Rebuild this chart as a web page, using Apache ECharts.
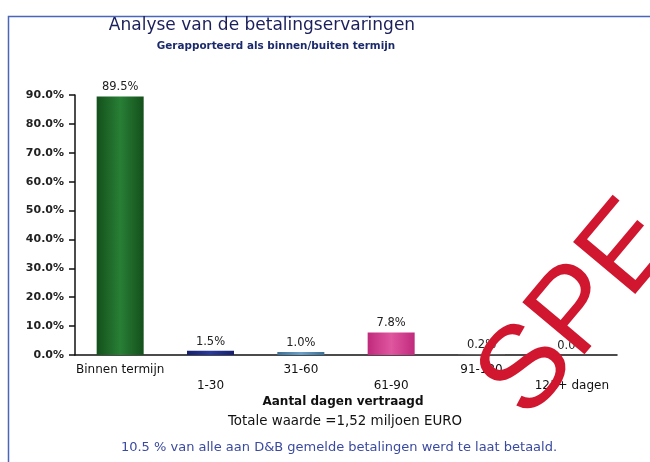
<!DOCTYPE html>
<html><head><meta charset="utf-8">
<script src="https://cdn.jsdelivr.net/npm/echarts@6/dist/echarts.min.js"></script>
<style>html,body{margin:0;padding:0;background:#fff}#c{width:650px;height:462px}</style>
</head><body><div id="c"></div>
<script>
const categories = ['Binnen termijn', '1-30', '31-60', '61-90', '91-120', '121+ dagen'];
const values = [89.5, 1.5, 1.0, 7.8, 0.2, 0.0];
const barColors = [
  ['#14501c', '#287f35', '#14501c'],
  ['#16206e', '#2a3a9a', '#16206e'],
  ['#3b6f95', '#6aa0c8', '#3b6f95'],
  ['#c02a7c', '#e0569f', '#c02a7c'],
  ['#666666', '#888888', '#666666'],
  ['#666666', '#888888', '#666666']
];
const yTicks = [0, 10, 20, 30, 40, 50, 60, 70, 80, 90];
const titleText = 'Analyse van de betalingservaringen';
const subtitleText = 'Gerapporteerd als binnen/buiten termijn';
const axisTitle = 'Aantal dagen vertraagd';
const totalText = 'Totale waarde =1,52 miljoen EURO';
const footerText = '10.5 % van alle aan D&B gemelde betalingen werd te laat betaald.';
const watermark = 'SPE';

const font = 'DejaVu Sans';
const chart = echarts.init(document.getElementById('c'), null, {renderer: 'canvas'});
chart.setOption({
  animation: false,
  backgroundColor: '#ffffff',
  grid: {left: 75, right: 33, top: 95, bottom: 107, containLabel: false},
  xAxis: {
    type: 'category',
    data: categories,
    axisLine: {lineStyle: {color: '#111', width: 1.5}},
    axisTick: {alignWithLabel: true, length: 6, lineStyle: {color: '#111', width: 1.5}},
    axisLabel: {
      interval: 0, color: '#111', fontFamily: font, fontSize: 12, margin: 7, lineHeight: 16,
      formatter: (v, i) => (i % 2 === 1 ? '\n' + v : v)
    }
  },
  yAxis: {
    type: 'value', min: yTicks[0], max: yTicks[yTicks.length - 1], interval: 10,
    splitLine: {show: false},
    axisLine: {show: true, lineStyle: {color: '#111', width: 1.5}},
    axisTick: {show: true, length: 6, lineStyle: {color: '#111', width: 1.5}},
    axisLabel: {color: '#222', fontFamily: font, fontSize: 11, fontWeight: 'bold', margin: 11,
      formatter: v => v.toFixed(1) + '%'}
  },
  series: [{
    type: 'bar',
    barWidth: 47,
    data: values.map((v, i) => ({
      value: v,
      itemStyle: {
        color: new echarts.graphic.LinearGradient(0, 0, 1, 0, [
          {offset: 0, color: barColors[i][0]},
          {offset: 0.5, color: barColors[i][1]},
          {offset: 1, color: barColors[i][2]}
        ])
      }
    })),
    label: {show: true, position: 'top', distance: 3, color: '#222', fontFamily: font, fontSize: 11.5,
      formatter: p => p.value.toFixed(1) + '%'}
  }],
  graphic: [
    {type: 'rect', shape: {x: 8.5, y: 16.5, width: 660, height: 460}, silent: true,
      style: {fill: 'none', stroke: '#4a66b8', lineWidth: 1.5}},
    {type: 'text', x: 262, y: 26, style: {text: titleText, fill: '#1b1f5a', font: '17px "DejaVu Sans"', textAlign: 'center', textVerticalAlign: 'middle'}},
    {type: 'text', x: 276, y: 46, style: {text: subtitleText, fill: '#1b2a6b', font: 'bold 10.4px "DejaVu Sans"', textAlign: 'center', textVerticalAlign: 'middle'}},
    {type: 'text', x: 343, y: 402, style: {text: axisTitle, fill: '#111', font: 'bold 12px "DejaVu Sans"', textAlign: 'center', textVerticalAlign: 'middle'}},
    {type: 'text', x: 345, y: 422, style: {text: totalText, fill: '#111', font: '13.4px "DejaVu Sans"', textAlign: 'center', textVerticalAlign: 'middle'}},
    {type: 'text', x: 339, y: 448, style: {text: footerText, fill: '#3a4aa0', font: '13px "DejaVu Sans"', textAlign: 'center', textVerticalAlign: 'middle'}},
    {type: 'text', x: 548, y: 439, rotation: 50 * Math.PI / 180, z: 100,
      style: {text: watermark, fill: '#d0172f', font: '300 118px "Liberation Sans"', textAlign: 'left', textVerticalAlign: 'bottom'}}
  ]
});
</script></body></html>
